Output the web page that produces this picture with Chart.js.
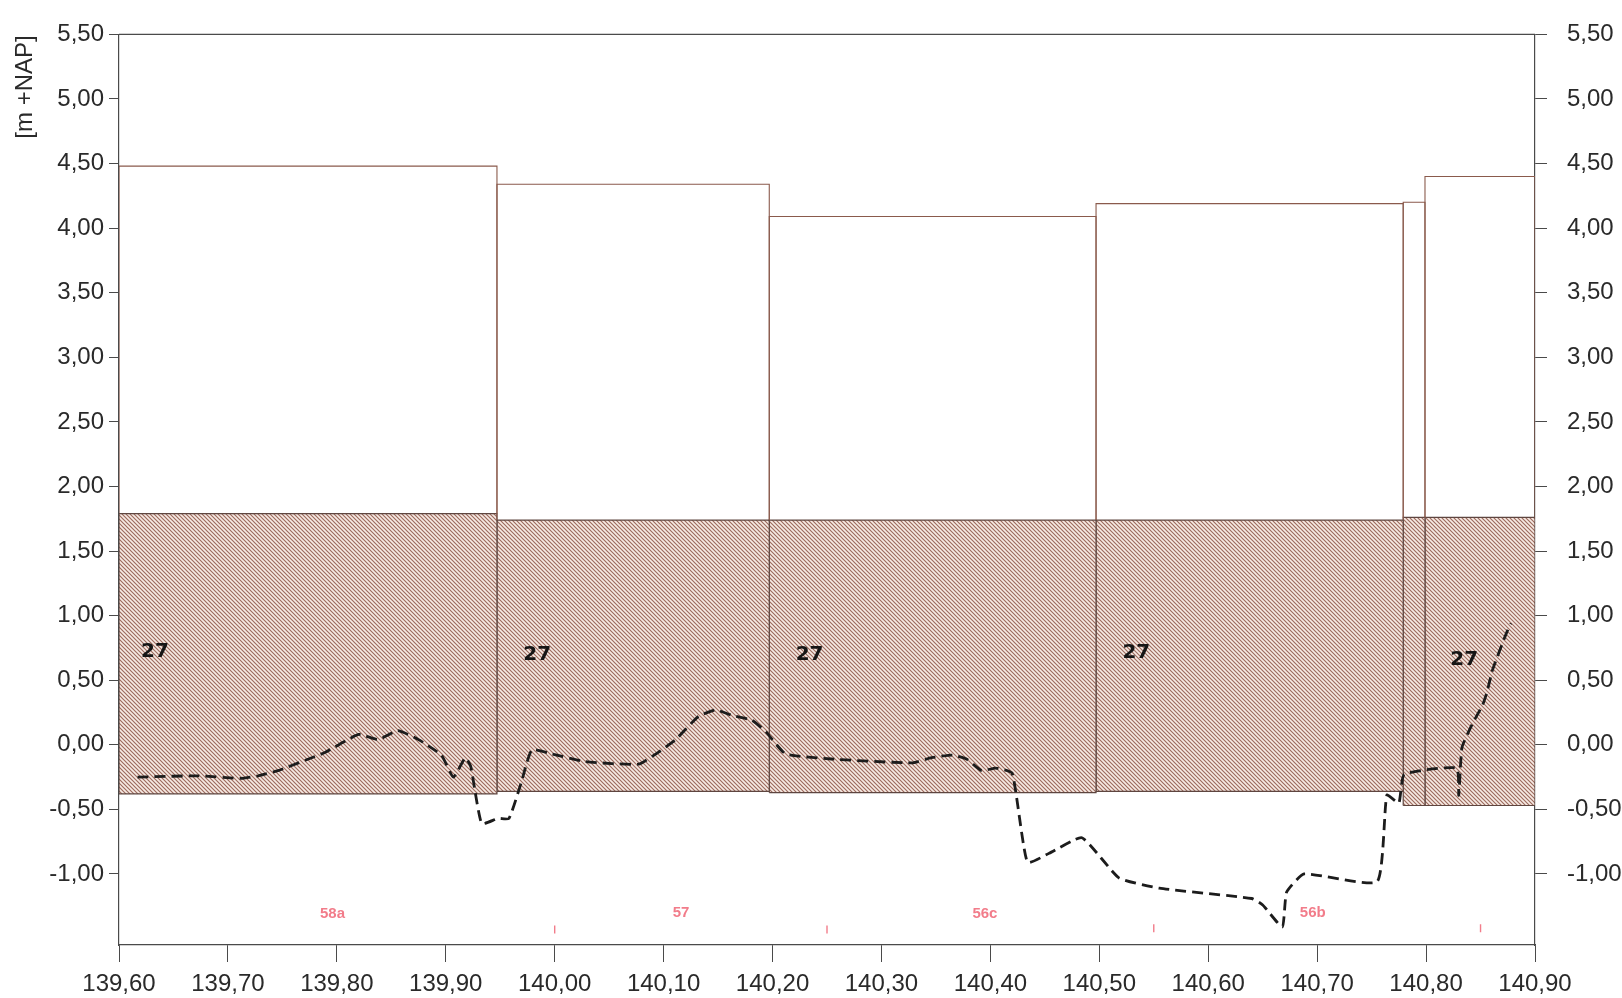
<!DOCTYPE html>
<html>
<head>
<meta charset="utf-8">
<title>Profiel 139,60 - 140,90</title>
<script src="https://cdn.jsdelivr.net/npm/chart.js@4.4.1/dist/chart.umd.min.js"></script>
<style>
  html, body { margin: 0; padding: 0; background: #fff; }
  #wrap { width: 1622px; height: 998px; position: relative; }
</style>
</head>
<body>
<div id="wrap"><canvas id="profileChart"></canvas></div>
<script>
// segment boundaries (km) and levels (m +NAP)
const boxEdges = [139.60, 139.947, 140.197, 140.497, 140.779, 140.799, 140.90];
const upperTop = [4.48, 4.34, 4.09, 4.19, 4.20, 4.40];
const hatchTop = [1.79, 1.74, 1.74, 1.74, 1.76, 1.76];
const hatchBottom = [-0.38, -0.36, -0.37, -0.36, -0.47, -0.47];

// "27" labels inside the hatched blocks
const codeLabels = ['27', '27', '27', '27', '27'];
const codeX = [139.633, 139.984, 140.234, 140.534, 140.835];
const codeY = [0.72, 0.70, 0.70, 0.71, 0.66];

// pink section names and small marks near the bottom
const sectionNames = ['58a', '57', '56c', '56b'];
const sectionX = [139.796, 140.116, 140.395, 140.696];
const sectionY = [-1.31, -1.30, -1.31, -1.30];
const markX = [140.00, 140.25, 140.55, 140.85];
const markY = [-1.43, -1.43, -1.42, -1.42];

// dashed profile line
const profileX = [139.617, 139.673, 139.712, 139.728, 139.746, 139.771, 139.789, 139.820, 139.838, 139.856,
  139.875, 139.896, 139.907, 139.918, 139.923, 139.933, 139.948, 139.958, 139.969, 139.979,
  139.997, 140.028, 140.077, 140.093, 140.111, 140.132, 140.148, 140.162, 140.181, 140.194,
  140.212, 140.254, 140.328, 140.346, 140.365, 140.378, 140.392, 140.405, 140.420, 140.434,
  140.454, 140.484, 140.518, 140.555, 140.640, 140.650, 140.668, 140.672, 140.688, 140.755,
  140.764, 140.775, 140.780, 140.828, 140.830, 140.833, 140.843, 140.852, 140.856, 140.861,
  140.874, 140.878];
const profileY = [-0.25, -0.24, -0.26, -0.24, -0.20, -0.12, -0.06, 0.08, 0.04, 0.11,
  0.04, -0.08, -0.25, -0.10, -0.17, -0.61, -0.57, -0.57, -0.30, -0.04,
  -0.07, -0.13, -0.15, -0.07, 0.04, 0.22, 0.27, 0.23, 0.19, 0.10,
  -0.07, -0.11, -0.14, -0.10, -0.08, -0.11, -0.20, -0.18, -0.22, -0.91,
  -0.84, -0.72, -1.03, -1.11, -1.19, -1.24, -1.41, -1.14, -1.00, -1.06,
  -0.39, -0.45, -0.23, -0.18, -0.39, -0.02, 0.17, 0.31, 0.41, 0.58,
  0.87, 0.94];

const xTicks = [139.6, 139.7, 139.8, 139.9, 140.0, 140.1, 140.2, 140.3, 140.4, 140.5, 140.6, 140.7, 140.8, 140.9];
const yTicks = [-1.0, -0.5, 0.0, 0.5, 1.0, 1.5, 2.0, 2.5, 3.0, 3.5, 4.0, 4.5, 5.0, 5.5];

const FONT = '"Liberation Sans", Arial, sans-serif';
const AXIS_COLOR = '#4a4a4a';

function makeHatch() {
  const c = document.createElement('canvas');
  c.width = 4;
  c.height = 4;
  const g = c.getContext('2d');
  g.fillStyle = '#f7ebe4';
  g.fillRect(0, 0, 4, 4);
  g.strokeStyle = '#9c6a5e';
  g.lineWidth = 1.15;
  g.beginPath();
  g.moveTo(-1, -1); g.lineTo(5, 5);
  g.moveTo(-1, 3); g.lineTo(1, 5);
  g.moveTo(3, -1); g.lineTo(5, 1);
  g.stroke();
  return g.createPattern(c, 'repeat');
}

const hatch = makeHatch();
const datasets = [];

datasets.push({
  label: 'profiel',
  data: profileX.map((x, i) => ({ x: x, y: profileY[i] })),
  borderColor: '#1c1c1c',
  borderWidth: 2.8,
  borderDash: [11, 6],
  tension: 0.15,
  pointRadius: 0,
  fill: false,
  order: 0
});

datasets.push({
  label: 'marks',
  data: markX.map((x, i) => ({ x: x, y: markY[i] })),
  showLine: false,
  pointStyle: 'line',
  rotation: 90,
  pointRadius: 4,
  borderColor: '#f27c8a',
  borderWidth: 1.4,
  order: 1
});

for (let i = 0; i < upperTop.length; i++) {
  const x0 = boxEdges[i], x1 = boxEdges[i + 1];
  // white block above the hatched layer
  datasets.push({
    label: 'boven ' + i,
    data: [
      { x: x0, y: hatchTop[i] }, { x: x0, y: upperTop[i] },
      { x: x1, y: upperTop[i] }, { x: x1, y: hatchTop[i] }
    ],
    borderColor: '#8a5a4c',
    borderWidth: 1.1,
    pointRadius: 0,
    fill: false,
    tension: 0,
    order: 3
  });
  // hatched layer
  datasets.push({
    label: 'laag ' + i,
    data: [
      { x: x0, y: hatchBottom[i] }, { x: x0, y: hatchTop[i] },
      { x: x1, y: hatchTop[i] }, { x: x1, y: hatchBottom[i] },
      { x: x0, y: hatchBottom[i] }
    ],
    borderColor: '#5e4640',
    borderWidth: 1.2,
    backgroundColor: hatch,
    pointRadius: 0,
    fill: 'shape',
    tension: 0,
    order: 4
  });
}

const textPlugin = {
  id: 'texts',
  afterDatasetsDraw(chart) {
    const ctx = chart.ctx;
    const xs = chart.scales.x, ys = chart.scales.y;
    ctx.save();
    ctx.textAlign = 'center';
    ctx.textBaseline = 'middle';
    ctx.fillStyle = '#151515';
    ctx.font = 'bold 20px "DejaVu Sans", ' + FONT;
    codeLabels.forEach((t, i) => {
      ctx.fillText(t, xs.getPixelForValue(codeX[i]), ys.getPixelForValue(codeY[i]));
    });
    ctx.fillStyle = '#f27c8a';
    ctx.font = 'bold 15px ' + FONT;
    sectionNames.forEach((t, i) => {
      ctx.fillText(t, xs.getPixelForValue(sectionX[i]), ys.getPixelForValue(sectionY[i]));
    });
    // top border of the plot
    const a = chart.chartArea;
    ctx.strokeStyle = AXIS_COLOR;
    ctx.lineWidth = 1.2;
    ctx.beginPath();
    ctx.moveTo(a.left, a.top);
    ctx.lineTo(a.right, a.top);
    ctx.stroke();
    // axis title at the top of the left axis
    ctx.translate(25, 87);
    ctx.rotate(-Math.PI / 2);
    ctx.fillStyle = '#2a2a2a';
    ctx.font = '24px ' + FONT;
    ctx.fillText('[m +NAP]', 0, 0);
    ctx.restore();
  }
};

function commaFmt(v) {
  return Number(v).toFixed(2).replace('.', ',');
}

function yAxis(position, width, pad, tickLen) {
  return {
    type: 'linear',
    position: position,
    min: -1.55,
    max: 5.5,
    afterBuildTicks: (scale) => { scale.ticks = yTicks.map(v => ({ value: v })); },
    afterFit: (scale) => { scale.width = width; },
    border: { display: true, color: AXIS_COLOR, width: 1.2 },
    grid: { drawOnChartArea: false, color: AXIS_COLOR, tickLength: tickLen, lineWidth: 1 },
    ticks: {
      callback: commaFmt,
      padding: pad,
      color: '#2a2a2a',
      font: { family: FONT, size: 24 }
    }
  };
}

new Chart(document.getElementById('profileChart'), {
  type: 'line',
  data: { datasets: datasets },
  options: {
    responsive: true,
    maintainAspectRatio: false,
    animation: false,
    layout: { padding: { top: 32, left: 0, right: 0, bottom: 0 } },
    plugins: {
      legend: { display: false },
      tooltip: { enabled: false },
      title: { display: false }
    },
    scales: {
      x: {
        type: 'linear',
        min: 139.6,
        max: 140.9,
        afterBuildTicks: (scale) => { scale.ticks = xTicks.map(v => ({ value: v })); },
        afterFit: (scale) => { scale.height = 53; },
        border: { display: true, color: AXIS_COLOR, width: 1.2 },
        grid: { drawOnChartArea: false, color: AXIS_COLOR, tickLength: 17, lineWidth: 1 },
        ticks: {
          callback: commaFmt,
          padding: 8,
          maxRotation: 0,
          autoSkip: false,
          color: '#2a2a2a',
          font: { family: FONT, size: 24 }
        }
      },
      y: yAxis('left', 119, 5, 10),
      y2: yAxis('right', 87, 20, 12)
    }
  },
  plugins: [textPlugin]
});
</script>
</body>
</html>
